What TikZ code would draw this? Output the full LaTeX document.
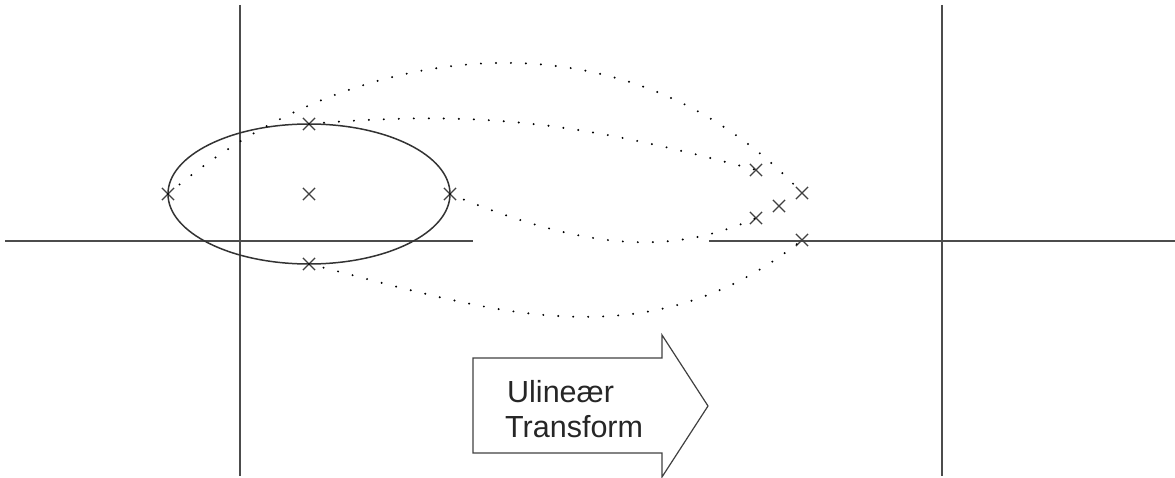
\documentclass[tikz,border=0pt]{standalone}
\usepackage{fontspec}
\setmainfont{Liberation Sans}
\usetikzlibrary{shapes.misc}
\tikzset{
  axis/.style={draw=black!70, line width=1.4pt},
  xmark/.style={cross out, draw=black!75, line width=1.2pt, minimum size=11pt, inner sep=0pt},
  dotline/.style={draw=black, line width=2.2pt, line cap=round, dash pattern=on 0pt off 15pt, dash phase=0pt},
  ell/.style={draw=black!80, line width=1.5pt},
  arrowbox/.style={draw=black!75, line width=1.2pt, line join=miter},
  lbl/.style={inner sep=0pt, font=\fontsize{30.5}{36}\selectfont, text=black!85}
}
\begin{document}
\begin{tikzpicture}[x=1pt,y=-1pt]
\useasboundingbox (0,0) rectangle (1175,478);
% axes
\draw[axis] (240,5) -- (240,476);
\draw[axis] (5,241) -- (473,241);
\draw[axis] (942,5) -- (942,476);
\draw[axis] (709,241) -- (1175,241);
% ellipse
\draw[ell] (309,194) ellipse [x radius=141pt, y radius=70pt];
% crosses left
\node[xmark] (a1) at (168,194) {};
\node[xmark] (a2) at (309,124) {};
\node[xmark] (a3) at (309,194) {};
\node[xmark] (a4) at (450,194) {};
\node[xmark] (a5) at (309,264) {};
% crosses right
\node[xmark] (b1) at (756,170) {};
\node[xmark] (b2) at (802,193) {};
\node[xmark] (b3) at (779,206) {};
\node[xmark] (b4) at (756,218) {};
\node[xmark] (b5) at (802,240) {};
% dotted mappings
\draw[dotline] (a1.center) .. controls (348,40) and (622,0) .. (b2.center);
\draw[dotline] (a2.center) .. controls (484,109) and (586,124) .. (b1.center);
\draw[dotline] (a4.center) .. controls (583,249) and (668,257) .. (b4.center);
\draw[dotline] (a5.center) .. controls (481,307) and (642,368) .. (b5.center);
% arrow
\draw[arrowbox] (473,358) -- (662,358) -- (662,335) -- (708,406) -- (662,477) -- (662,453) -- (473,453) -- cycle;
\node[lbl, anchor=base west] (t1) at (507,402) {Ulineær};
\node[lbl, anchor=base west] (t2) at (505,437) {Transform};
\end{tikzpicture}
\end{document}
